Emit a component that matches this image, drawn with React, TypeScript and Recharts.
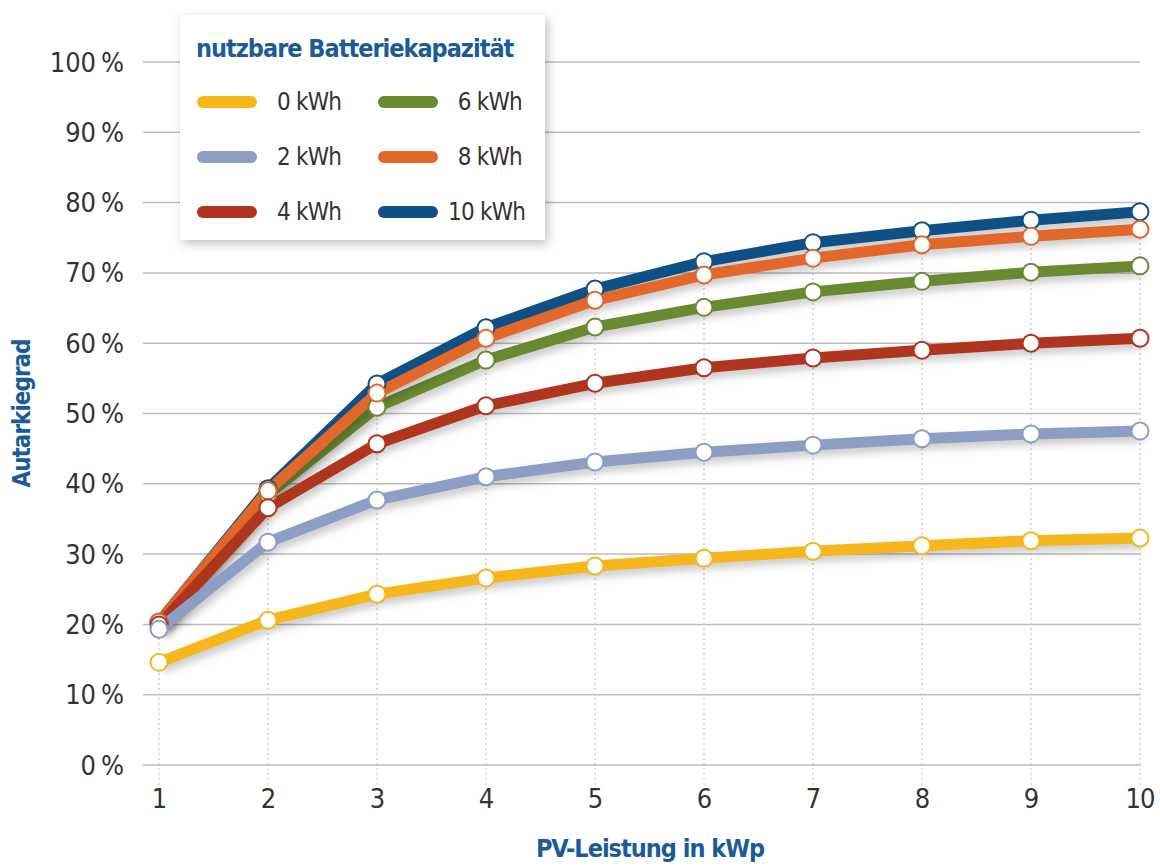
import React from "react";
import {
  LineChart,
  Line,
  XAxis,
  YAxis,
  CartesianGrid,
  ReferenceLine,
} from "recharts";

// PV-Leistung in kWp
const pvPower = [1, 2, 3, 4, 5, 6, 7, 8, 9, 10];
const yTicks = [0, 10, 20, 30, 40, 50, 60, 70, 80, 90, 100];

// Autarkiegrad in % per usable battery capacity
const kwh0 = [14.6, 20.6, 24.3, 26.6, 28.3, 29.4, 30.4, 31.2, 31.9, 32.3];
const kwh2 = [19.3, 31.7, 37.7, 41.0, 43.1, 44.5, 45.5, 46.4, 47.1, 47.5];
const kwh4 = [19.9, 36.6, 45.7, 51.1, 54.3, 56.5, 57.9, 59.0, 60.0, 60.7];
const kwh6 = [20.2, 38.5, 50.9, 57.6, 62.3, 65.1, 67.3, 68.8, 70.1, 71.0];
const kwh8 = [20.3, 39.0, 52.9, 60.7, 66.1, 69.7, 72.1, 74.0, 75.2, 76.2];
const kwh10 = [20.3, 39.3, 54.2, 62.2, 67.7, 71.6, 74.3, 76.0, 77.5, 78.7];

const series = [
  { key: "kwh0", name: "0 kWh", color: "#f5b71c", values: kwh0 },
  { key: "kwh2", name: "2 kWh", color: "#8d9ec5", values: kwh2 },
  { key: "kwh4", name: "4 kWh", color: "#b0351f", values: kwh4 },
  { key: "kwh6", name: "6 kWh", color: "#6a8a31", values: kwh6 },
  { key: "kwh8", name: "8 kWh", color: "#e2672a", values: kwh8 },
  { key: "kwh10", name: "10 kWh", color: "#0f5187", values: kwh10 },
];

// draw order: larger batteries behind
const drawOrder = ["kwh10", "kwh6", "kwh8", "kwh4", "kwh2", "kwh0"];

const data = pvPower.map((x, i) => {
  const row: Record<string, number> = { x };
  series.forEach((s) => {
    row[s.key] = s.values[i];
  });
  return row;
});

const FONT = "'DejaVu Sans Condensed', 'Liberation Sans Narrow', sans-serif";
const BLUE = "#1b5c98";
const TEXT = "#333333";

function LegendBox() {
  const item = (s: (typeof series)[number], right: boolean) => (
    <div
      key={s.key}
      style={{ display: "flex", alignItems: "center", height: 55 }}
    >
      <div
        style={{
          width: 60,
          height: 12,
          borderRadius: 6,
          background: s.color,
        }}
      />
      <div
        style={{
          marginLeft: right ? 10 : 20,
          width: right ? 74 : 80,
          textAlign: right ? "right" : "left",
          fontSize: 24,
          letterSpacing: -0.8,
          whiteSpace: "nowrap",
          color: TEXT,
        }}
      >
        {s.name}
      </div>
    </div>
  );
  return (
    <div
      style={{
        position: "absolute",
        left: 180,
        top: 15,
        width: 365,
        height: 225,
        boxSizing: "border-box",
        background: "#fff",
        boxShadow: "3px 4px 10px rgba(0,0,0,0.25)",
        padding: "18px 0 0 16px",
        fontFamily: FONT,
      }}
    >
      <div
        style={{
          color: BLUE,
          fontWeight: "bold",
          fontSize: 25,
          letterSpacing: -1,
          lineHeight: "32px",
          whiteSpace: "nowrap",
        }}
      >
        nutzbare Batteriekapazität
      </div>
      <div style={{ display: "flex", marginTop: 9, marginLeft: 1 }}>
        <div style={{ width: 181 }}>{series.slice(0, 3).map((s) => item(s, false))}</div>
        <div>{series.slice(3).map((s) => item(s, true))}</div>
      </div>
    </div>
  );
}

export default function App() {
  const byKey = Object.fromEntries(series.map((s) => [s.key, s]));
  return (
    <div style={{ position: "absolute", left: 0, top: 0, width: 1160, height: 867, background: "#fff" }}>
      <style>{`.recharts-line-curve { filter: drop-shadow(3px 5px 4px rgba(0,0,0,0.22)); }`}</style>
      <LineChart
        width={1160}
        height={867}
        data={data}
        margin={{ top: 62, right: 20, bottom: 0, left: 0 }}
      >
        <CartesianGrid vertical={false} stroke="#bdbdbd" strokeWidth={1.5} />
        {pvPower.map((x, i) => (
          <ReferenceLine
            key={x}
            segment={[
              { x, y: 0 },
              { x, y: kwh10[i] },
            ]}
            stroke="#c4c4c4"
            strokeDasharray="2 3"
            strokeWidth={1.2}
          />
        ))}
        <XAxis
          dataKey="x"
          type="number"
          domain={[1, 10]}
          ticks={pvPower}
          padding={{ left: 16, right: 0 }}
          height={102}
          axisLine={false}
          tickLine={{ stroke: "#c4c4c4", strokeDasharray: "2 3" }}
          tickSize={20}
          tickMargin={4}
          tick={{ fill: TEXT, fontSize: 27, fontFamily: FONT, letterSpacing: -1 }}
          label={{
            content: ({ viewBox }: any) => (
              <text
                x={650}
                y={viewBox.y + 92}
                textAnchor="middle"
                fill={BLUE}
                fontWeight="bold"
                fontSize={25}
                letterSpacing={-1}
                fontFamily={FONT}
              >
                PV-Leistung in kWp
              </text>
            ),
          }}
        />
        <YAxis
          type="number"
          domain={[0, 100]}
          ticks={yTicks}
          width={143}
          axisLine={false}
          tickLine={false}
          tickMargin={13}
          tickFormatter={(v: number) => `${v}\u202F%`}
          tick={{ fill: TEXT, fontSize: 27, fontFamily: FONT, letterSpacing: -1.4 }}
          label={{
            content: ({ viewBox }: any) => (
              <text
                x={30}
                y={viewBox.y + viewBox.height / 2}
                transform={`rotate(-90 30 ${viewBox.y + viewBox.height / 2})`}
                textAnchor="middle"
                fill={BLUE}
                fontWeight="bold"
                fontSize={24}
                letterSpacing={-1}
                fontFamily={FONT}
              >
                Autarkiegrad
              </text>
            ),
          }}
        />
        {drawOrder.map((k) => {
          const s = byKey[k];
          return (
            <Line
              key={k}
              dataKey={k}
              name={s.name}
              stroke={s.color}
              strokeWidth={11}
              strokeLinejoin="round"
              type="linear"
              isAnimationActive={false}
              dot={{ r: 8.5, fill: "#fff", stroke: s.color, strokeWidth: 2, fillOpacity: 1 }}
              activeDot={false}
            />
          );
        })}
      </LineChart>
      <LegendBox />
    </div>
  );
}
